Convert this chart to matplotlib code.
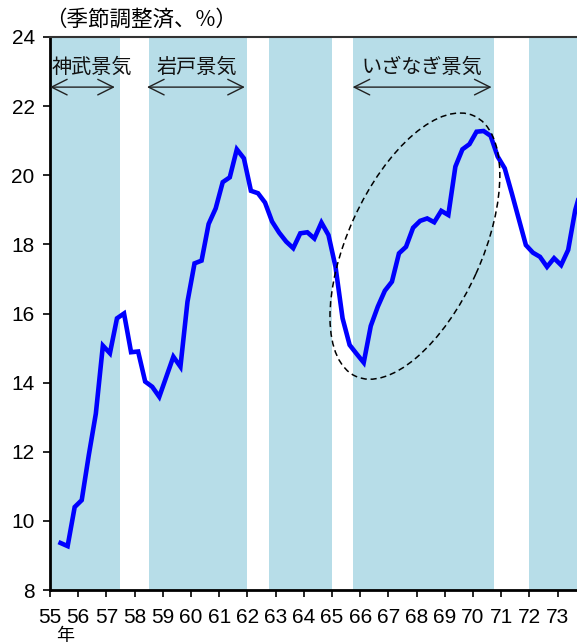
import numpy as np
import matplotlib.pyplot as plt
from matplotlib.patches import Ellipse
import matplotlib.transforms as mtransforms

plt.rcParams['font.family'] = ['Noto Sans CJK JP', 'DejaVu Sans']

# 季節調整済、% (四半期、1955年4-6月期から)
ratio = [9.36, 9.27, 10.4, 10.6, 11.9, 13.1, 15.07, 14.85, 15.86, 16.0,
         14.88, 14.9, 14.03, 13.88, 13.59, 14.17, 14.75, 14.46, 16.34, 17.45,
         17.53, 18.59, 19.04, 19.80, 19.94, 20.75, 20.49, 19.55, 19.48, 19.21,
         18.66, 18.34, 18.08, 17.89, 18.32, 18.35, 18.17, 18.63, 18.27, 17.35,
         15.86, 15.09, 14.83, 14.58, 15.64, 16.20, 16.66, 16.92, 17.74, 17.93,
         18.48, 18.68, 18.75, 18.64, 18.97, 18.85, 20.25, 20.75, 20.90, 21.26,
         21.28, 21.14, 20.54, 20.20, 19.48, 18.73, 17.98, 17.76, 17.64, 17.35,
         17.60, 17.40, 17.84, 18.99, 19.7]
x = 55 + (np.arange(len(ratio)) + 1.5) / 4

# 景気拡張期
band_start = [54.9, 58.5, 62.76, 65.74, 71.99]
band_end = [57.48, 61.99, 65.0, 70.73, 76.0]

boom_names = ['神武景気', '岩戸景気', 'いざなぎ景気']
boom_from = [55.0, 58.44, 65.73]
boom_to = [57.30, 61.91, 70.66]
boom_text_x = [56.5, 60.21, 68.19]

xticks = list(range(55, 74))
yticks = list(range(8, 25, 2))

fig = plt.figure(figsize=(5.77, 6.44), dpi=100)
ax = fig.add_axes([50 / 577, 54 / 644, 527 / 577, 553 / 644])

for s, e in zip(band_start, band_end):
    ax.axvspan(s, e, color='#b7dde8', lw=0, zorder=0)

ax.plot(x, ratio, color='#0000ff', lw=3.3, zorder=3, solid_joinstyle='miter')

for name, a, b, tx in zip(boom_names, boom_from, boom_to, boom_text_x):
    ax.annotate('', xy=(b, 22.55), xytext=(a, 22.55),
                arrowprops=dict(arrowstyle='<->,head_length=0.7,head_width=0.35',
                                lw=1.0, color='#222222',
                                shrinkA=0, shrinkB=0, mutation_scale=16))
    ax.text(tx, 23.13, name, ha='center', va='center', fontsize=14.5,
            color='#111111')

# いざなぎ景気の囲み
trans = fig.dpi_scale_trans + mtransforms.ScaledTranslation(67.94, 17.95, ax.transData)
ax.add_patch(Ellipse((0, 0), 2.86, 1.34, angle=65.6, transform=trans,
                     fill=False, ls=(0, (4, 2.5)), lw=1.1, ec='black', zorder=4))

ax.set_xlim(55, 55 + 527 / 28.2)
ax.set_ylim(8, 24)
ax.set_xticks(xticks)
ax.set_xticklabels([str(t) for t in xticks])
ax.set_yticks(yticks)
ax.set_yticklabels([str(t) for t in yticks])
ax.tick_params(direction='out', length=5, width=1.2, labelsize=15)
ax.tick_params(axis='x', pad=8)
ax.tick_params(axis='y', pad=6)
for lab in ax.get_xticklabels() + ax.get_yticklabels():
    lab.set_family(['Liberation Sans', 'DejaVu Sans'])

ax.spines['right'].set_visible(False)
ax.spines['left'].set_linewidth(2)
ax.spines['bottom'].set_linewidth(2)
ax.spines['top'].set_linewidth(1.5)
ax.spines['top'].set_color('#333333')

fig.text(45 / 577, 1 - 20 / 644, '（季節調整済、%）', fontsize=15.5,
         ha='left', va='center')
fig.text(65 / 577, 1 - 636 / 644, '年', fontsize=13, ha='center', va='center')

fig.savefig('out.png', dpi=100)
